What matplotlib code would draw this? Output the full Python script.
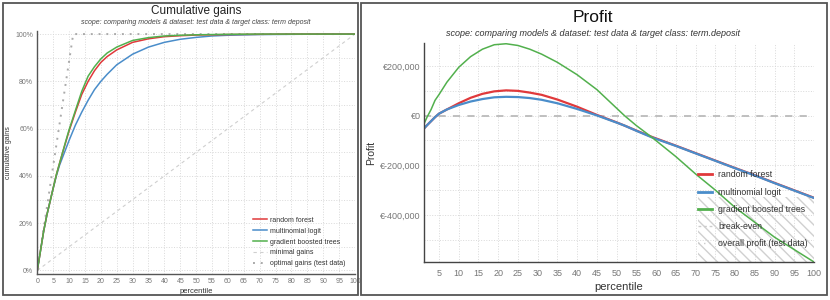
import matplotlib
matplotlib.use('Agg')
import matplotlib.pyplot as plt
from matplotlib.lines import Line2D
from matplotlib.patches import Rectangle
from matplotlib.ticker import MultipleLocator, FuncFormatter

plt.rcParams['font.family'] = ['Liberation Sans', 'DejaVu Sans']

# cumulative gains data (percentile -> % of targets)
gains_pct = [0, 1, 2, 3, 4, 5, 6, 7, 8, 9, 10, 12, 14, 16, 18, 20, 22, 25,
             30, 35, 40, 45, 50, 55, 60, 70, 80, 90, 100]
gains_rf = [0, 8.3, 16.6, 23.4, 29.1, 34.8, 40.5, 45.3, 50.0, 54.5, 59.0, 67.0,
            74.5, 80.0, 84.5, 88.0, 90.5, 93.3, 96.5, 98.0, 98.9, 99.3, 99.6,
            99.7, 99.8, 99.9, 100, 100, 100]
gains_mnl = [0, 8.3, 16.6, 23.4, 29.1, 34.8, 40.0, 44.5, 48.0, 51.5, 55.0, 61.5,
             67.0, 72.0, 76.5, 80.0, 83.0, 87.0, 91.5, 94.5, 96.5, 97.8, 98.6,
             99.2, 99.5, 99.8, 99.9, 100, 100]
gains_gbt = [0, 8.3, 16.6, 23.4, 29.1, 34.8, 40.5, 45.3, 50.1, 54.9, 59.5, 67.7,
             75.8, 82.2, 86.2, 89.5, 92.0, 94.5, 97.3, 98.5, 99.2, 99.5, 99.7,
             99.8, 99.9, 100, 100, 100, 100]
minimal_pct = [0, 100]
minimal_gain = [0, 100]
optimal_pct = [0, 11.3, 100]
optimal_gain = [0, 100, 100]

# profit data (percentile -> euro)
profit_pct = [1, 2, 3, 4, 5, 7, 10, 13, 16, 19, 22, 25, 28, 31, 35, 40, 45,
              50, 52, 55, 59, 65, 70, 75, 80, 85, 90, 95, 100]
profit_rf = [-55, -38, -22, -6, 8, 25, 50, 72, 88, 98, 102, 100, 93, 84, 65,
             36, 3, -27, -40, -60, -86, -121, -151, -181, -211, -240, -271,
             -301, -331]
profit_mnl = [-55, -38, -22, -6, 8, 25, 43, 57, 67, 74, 76, 75, 71, 64, 50,
              27, 1, -28, -40, -61, -88, -122, -152, -182, -212, -241, -272,
              -302, -332]
profit_gbt = [-40, -5, 25, 62, 85, 135, 195, 238, 268, 286, 290, 283, 268,
              248, 215, 165, 105, 30, 0, -40, -88, -165, -235, -300, -370,
              -430, -490, -540, -590]
profit_rf = [v * 1000 for v in profit_rf]
profit_mnl = [v * 1000 for v in profit_mnl]
profit_gbt = [v * 1000 for v in profit_gbt]

red = '#e0393b'
blue = '#4a8dca'
green = '#52b04d'
tick_col = '#777777'
grid_kw = dict(color='#d9d9d9', linestyle=':', linewidth=0.7)

fig = plt.figure(figsize=(8.3, 3), dpi=100)

# panel borders
for x0, x1 in [(3, 358), (361, 827)]:
    fig.add_artist(Rectangle((x0 / 830, 5 / 300), (x1 - x0) / 830, 292 / 300,
                             transform=fig.transFigure, fill=False,
                             edgecolor='#555555', linewidth=1.3))

# ---- cumulative gains ----
ax1 = fig.add_axes([37.3 / 830, 26 / 300, 317.7 / 830, 243 / 300])
ax1.plot(minimal_pct, minimal_gain, color='#cfcfcf', linestyle=(0, (3, 3)),
         linewidth=0.8, label='minimal gains')
ax1.plot(optimal_pct, optimal_gain, color='#aaaaaa', linestyle=(0, (1, 3)),
         linewidth=1.4, label='optimal gains (test data)')
ax1.plot(gains_pct, gains_mnl, color=blue, linewidth=1.1, label='multinomial logit')
ax1.plot(gains_pct, gains_rf, color=red, linewidth=1.1, label='random forest')
ax1.plot(gains_pct, gains_gbt, color=green, linewidth=1.1, label='gradient boosted trees')
ax1.set_xlim(0, 100)
ax1.set_ylim(-1.5, 101.3)
ax1.xaxis.set_major_locator(MultipleLocator(5))
ax1.yaxis.set_major_locator(MultipleLocator(20))
ax1.yaxis.set_minor_locator(MultipleLocator(10))
ax1.yaxis.set_major_formatter(FuncFormatter(lambda v, p: f'{v:.0f}%'))
ax1.grid(True, which='both', **grid_kw)
ax1.tick_params(labelsize=5, colors=tick_col, length=0, pad=3)
ax1.tick_params(which='minor', length=0)
for s in ['top', 'right']:
    ax1.spines[s].set_visible(False)
for s in ['left', 'bottom']:
    ax1.spines[s].set_color('#555555')
    ax1.spines[s].set_linewidth(1.0)
ax1.set_xlabel('percentile', fontsize=5.5, color='#333333', labelpad=2)
ax1.set_ylabel('cumulative gains', fontsize=5, color='#333333', labelpad=2)
h, l = ax1.get_legend_handles_labels()
order = [3, 2, 4, 0, 1]
ax1.legend([h[i] for i in order], [l[i] for i in order], loc='upper left',
           bbox_to_anchor=(0.679, 0.235), fontsize=5, frameon=False,
           handlelength=2.0, handletextpad=0.5, labelspacing=0.55,
           borderpad=0, borderaxespad=0, labelcolor='#333333')
fig.text(196 / 830, 1 - 11 / 300, 'Cumulative gains', ha='center', va='center',
         fontsize=8.5, color='#222222')
fig.text(196 / 830, 1 - 22 / 300,
         'scope: comparing models & dataset: test data & target class: term deposit',
         ha='center', va='center', fontsize=5, style='italic', color='#444444')

# ---- profit ----
ax2 = fig.add_axes([424 / 830, 38 / 300, 390 / 830, 219 / 300])
ax2.axhline(0, color='#bbbbbb', linestyle=(0, (4, 4)), linewidth=1.3)
ax2.plot(profit_pct, profit_rf, color=red, linewidth=1.6)
ax2.plot(profit_pct, profit_mnl, color=blue, linewidth=1.6)
ax2.plot(profit_pct, profit_gbt, color=green, linewidth=1.1)
ax2.add_patch(Rectangle((0.7026, 0), 0.2974, 0.297, transform=ax2.transAxes,
                        facecolor='none', edgecolor='#d0d0d0', hatch='\\\\\\',
                        linewidth=0, zorder=0))
ax2.set_xlim(1.2, 100)
ax2.set_ylim(-590000, 293000)
ax2.xaxis.set_major_locator(MultipleLocator(5))
ax2.yaxis.set_major_locator(MultipleLocator(200000))
ax2.yaxis.set_minor_locator(MultipleLocator(100000))
ax2.yaxis.set_major_formatter(FuncFormatter(lambda v, p: f'€{v:,.0f}'))
ax2.grid(True, which='both', **grid_kw)
ax2.tick_params(labelsize=6.5, colors=tick_col, length=0, pad=5)
ax2.tick_params(axis='y', pad=2.5)
ax2.tick_params(which='minor', length=0)
for s in ['top', 'right']:
    ax2.spines[s].set_visible(False)
for s in ['left', 'bottom']:
    ax2.spines[s].set_color('#444444')
    ax2.spines[s].set_linewidth(1.0)
ax2.set_xlabel('percentile', fontsize=8, color='#333333', labelpad=3)
ax2.set_ylabel('Profit', fontsize=7.5, color='#333333', labelpad=3)
handles = [Line2D([], [], color=red, linewidth=2),
           Line2D([], [], color=blue, linewidth=2),
           Line2D([], [], color=green, linewidth=2),
           Line2D([], [], color='#cccccc', linestyle=(0, (2, 2)), linewidth=1),
           Line2D([], [], color='#cccccc', linestyle=(0, (1, 3)), linewidth=1)]
labels = ['random forest', 'multinomial logit', 'gradient boosted trees',
          'break-even', 'overall profit (test data)']
ax2.legend(handles, labels, loc='upper left', bbox_to_anchor=(0.7026, 0.418),
           fontsize=6.3, frameon=False, handlelength=1.6, handletextpad=0.7,
           labelspacing=0.93, borderpad=0, borderaxespad=0, labelcolor='#333333')
fig.text(593 / 830, 1 - 18 / 300, 'Profit', ha='center', va='center',
         fontsize=12.5, color='#111111')
fig.text(593 / 830, 1 - 33 / 300,
         'scope: comparing models & dataset: test data & target class: term.deposit',
         ha='center', va='center', fontsize=6.5, style='italic', color='#333333')

fig.savefig('out.png', dpi=100)
